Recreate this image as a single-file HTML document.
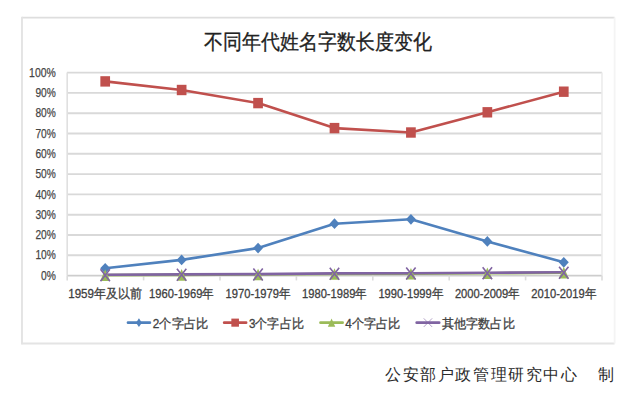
<!DOCTYPE html>
<html><head><meta charset="utf-8"><style>
html,body{margin:0;padding:0;background:#fff;width:640px;height:401px;overflow:hidden}
svg{display:block}
text{font-family:"Liberation Sans",sans-serif}
.yl{font-size:13px;fill:#454545;stroke:#454545;stroke-width:0.25px}
.xl{font-size:12.5px;fill:#404040;stroke:#404040;stroke-width:0.3px}
.lg{font-size:12.5px;fill:#404040;stroke:#404040;stroke-width:0.3px}
.tt{font-size:20.5px;fill:#222;stroke:#222;stroke-width:0.3px}
.cr{font-size:16px;fill:#2a2a2a;letter-spacing:1.6px}
</style></head><body>
<svg width="640" height="401" viewBox="0 0 640 401">
<line x1="22" y1="17.6" x2="614.6" y2="17.6" stroke="#dedede" stroke-width="1.8"/>
<line x1="22" y1="16.7" x2="22" y2="344.3" stroke="#e2e2e2" stroke-width="1.8"/>
<line x1="21.1" y1="343.5" x2="614.6" y2="343.5" stroke="#e4e4e4" stroke-width="1.8"/>
<line x1="614.6" y1="17.6" x2="614.6" y2="343.5" stroke="#f4f4f4" stroke-width="1.8"/>
<line x1="67" y1="72.60" x2="602" y2="72.60" stroke="#d9d9d9" stroke-width="1.9"/>
<line x1="67" y1="92.90" x2="602" y2="92.90" stroke="#d9d9d9" stroke-width="1.9"/>
<line x1="67" y1="113.20" x2="602" y2="113.20" stroke="#d9d9d9" stroke-width="1.9"/>
<line x1="67" y1="133.50" x2="602" y2="133.50" stroke="#d9d9d9" stroke-width="1.9"/>
<line x1="67" y1="153.80" x2="602" y2="153.80" stroke="#d9d9d9" stroke-width="1.9"/>
<line x1="67" y1="174.10" x2="602" y2="174.10" stroke="#d9d9d9" stroke-width="1.9"/>
<line x1="67" y1="194.40" x2="602" y2="194.40" stroke="#d9d9d9" stroke-width="1.9"/>
<line x1="67" y1="214.70" x2="602" y2="214.70" stroke="#d9d9d9" stroke-width="1.9"/>
<line x1="67" y1="235.00" x2="602" y2="235.00" stroke="#d9d9d9" stroke-width="1.9"/>
<line x1="67" y1="255.30" x2="602" y2="255.30" stroke="#d9d9d9" stroke-width="1.9"/>
<line x1="67" y1="275.60" x2="602" y2="275.60" stroke="#cdcdcd" stroke-width="1.9"/>
<line x1="67.2" y1="72.6" x2="67.2" y2="275.6" stroke="#e0e0e0" stroke-width="1.6"/>
<line x1="602" y1="72.6" x2="602" y2="275.6" stroke="#ececec" stroke-width="1.6"/>
<line x1="67.20" y1="275.6" x2="67.20" y2="280.40000000000003" stroke="#dcdcdc" stroke-width="1.6"/>
<line x1="143.60" y1="275.6" x2="143.60" y2="280.40000000000003" stroke="#dcdcdc" stroke-width="1.6"/>
<line x1="220.00" y1="275.6" x2="220.00" y2="280.40000000000003" stroke="#dcdcdc" stroke-width="1.6"/>
<line x1="296.40" y1="275.6" x2="296.40" y2="280.40000000000003" stroke="#dcdcdc" stroke-width="1.6"/>
<line x1="372.80" y1="275.6" x2="372.80" y2="280.40000000000003" stroke="#dcdcdc" stroke-width="1.6"/>
<line x1="449.20" y1="275.6" x2="449.20" y2="280.40000000000003" stroke="#dcdcdc" stroke-width="1.6"/>
<line x1="525.60" y1="275.6" x2="525.60" y2="280.40000000000003" stroke="#dcdcdc" stroke-width="1.6"/>
<line x1="602.00" y1="275.6" x2="602.00" y2="280.40000000000003" stroke="#dcdcdc" stroke-width="1.6"/>
<text x="55.8" y="76.75" text-anchor="end" textLength="26.7" lengthAdjust="spacingAndGlyphs" class="yl">100%</text>
<text x="55.8" y="97.05" text-anchor="end" textLength="20.4" lengthAdjust="spacingAndGlyphs" class="yl">90%</text>
<text x="55.8" y="117.35" text-anchor="end" textLength="20.4" lengthAdjust="spacingAndGlyphs" class="yl">80%</text>
<text x="55.8" y="137.65" text-anchor="end" textLength="20.4" lengthAdjust="spacingAndGlyphs" class="yl">70%</text>
<text x="55.8" y="157.95" text-anchor="end" textLength="20.4" lengthAdjust="spacingAndGlyphs" class="yl">60%</text>
<text x="55.8" y="178.25" text-anchor="end" textLength="20.4" lengthAdjust="spacingAndGlyphs" class="yl">50%</text>
<text x="55.8" y="198.55" text-anchor="end" textLength="20.4" lengthAdjust="spacingAndGlyphs" class="yl">40%</text>
<text x="55.8" y="218.85" text-anchor="end" textLength="20.4" lengthAdjust="spacingAndGlyphs" class="yl">30%</text>
<text x="55.8" y="239.15" text-anchor="end" textLength="20.4" lengthAdjust="spacingAndGlyphs" class="yl">20%</text>
<text x="55.8" y="259.45" text-anchor="end" textLength="20.4" lengthAdjust="spacingAndGlyphs" class="yl">10%</text>
<text x="55.8" y="279.75" text-anchor="end" textLength="14.8" lengthAdjust="spacingAndGlyphs" class="yl">0%</text>
<text x="68.2" y="298.3" textLength="74.0" lengthAdjust="spacingAndGlyphs" class="xl">1959年及以前</text>
<text x="149.1" y="298.3" textLength="65.0" lengthAdjust="spacingAndGlyphs" class="xl">1960-1969年</text>
<text x="225.6" y="298.3" textLength="65.0" lengthAdjust="spacingAndGlyphs" class="xl">1970-1979年</text>
<text x="302.0" y="298.3" textLength="65.0" lengthAdjust="spacingAndGlyphs" class="xl">1980-1989年</text>
<text x="378.4" y="298.3" textLength="65.0" lengthAdjust="spacingAndGlyphs" class="xl">1990-1999年</text>
<text x="454.9" y="298.3" textLength="65.0" lengthAdjust="spacingAndGlyphs" class="xl">2000-2009年</text>
<text x="531.3" y="298.3" textLength="65.0" lengthAdjust="spacingAndGlyphs" class="xl">2010-2019年</text>
<polyline points="105.2,268.3 181.6,259.9 258.1,248.1 334.5,223.7 410.9,219.3 487.4,241.4 563.8,262.3" fill="none" stroke="#4f81bd" stroke-width="2.6" stroke-linejoin="round" stroke-linecap="round"/>
<polyline points="105.2,81.4 181.6,90.0 258.1,103.1 334.5,128.1 410.9,132.5 487.4,112.3 563.8,91.7" fill="none" stroke="#c0504d" stroke-width="2.6" stroke-linejoin="round" stroke-linecap="round"/>
<polyline points="105.2,275.1 181.6,274.9 258.1,274.5 334.5,274.0 410.9,273.8 487.4,273.3 563.8,272.6" fill="none" stroke="#9bbb59" stroke-width="2.6" stroke-linejoin="round" stroke-linecap="round"/>
<polyline points="105.2,274.8 181.6,274.4 258.1,274.1 334.5,273.4 410.9,273.2 487.4,272.8 563.8,272.3" fill="none" stroke="#8064a2" stroke-width="2.6" stroke-linejoin="round" stroke-linecap="round"/>
<path d="M105.20 262.90L110.20 268.30L105.20 273.70L100.20 268.30Z" fill="#4f81bd"/>
<path d="M181.63 254.50L186.63 259.90L181.63 265.30L176.63 259.90Z" fill="#4f81bd"/>
<path d="M258.06 242.70L263.06 248.10L258.06 253.50L253.06 248.10Z" fill="#4f81bd"/>
<path d="M334.49 218.30L339.49 223.70L334.49 229.10L329.49 223.70Z" fill="#4f81bd"/>
<path d="M410.92 213.90L415.92 219.30L410.92 224.70L405.92 219.30Z" fill="#4f81bd"/>
<path d="M487.35 236.00L492.35 241.40L487.35 246.80L482.35 241.40Z" fill="#4f81bd"/>
<path d="M563.78 256.90L568.78 262.30L563.78 267.70L558.78 262.30Z" fill="#4f81bd"/>
<rect x="100.35" y="76.20" width="9.70" height="10.40" fill="#c0504d"/>
<rect x="176.78" y="84.80" width="9.70" height="10.40" fill="#c0504d"/>
<rect x="253.21" y="97.90" width="9.70" height="10.40" fill="#c0504d"/>
<rect x="329.64" y="122.90" width="9.70" height="10.40" fill="#c0504d"/>
<rect x="406.07" y="127.30" width="9.70" height="10.40" fill="#c0504d"/>
<rect x="482.50" y="107.10" width="9.70" height="10.40" fill="#c0504d"/>
<rect x="558.93" y="86.50" width="9.70" height="10.40" fill="#c0504d"/>
<path d="M105.20 269.30L110.20 280.90L100.20 280.90Z" fill="#9bbb59"/>
<path d="M181.63 269.10L186.63 280.70L176.63 280.70Z" fill="#9bbb59"/>
<path d="M258.06 268.70L263.06 280.30L253.06 280.30Z" fill="#9bbb59"/>
<path d="M334.49 268.20L339.49 279.80L329.49 279.80Z" fill="#9bbb59"/>
<path d="M410.92 268.00L415.92 279.60L405.92 279.60Z" fill="#9bbb59"/>
<path d="M487.35 267.50L492.35 279.10L482.35 279.10Z" fill="#9bbb59"/>
<path d="M563.78 266.80L568.78 278.40L558.78 278.40Z" fill="#9bbb59"/>
<path d="M100.50 269.15L109.90 281.15M109.90 269.15L100.50 281.15" stroke="#8064a2" stroke-width="1.6" fill="none" opacity="1"/>
<path d="M176.93 268.75L186.33 280.75M186.33 268.75L176.93 280.75" stroke="#8064a2" stroke-width="1.6" fill="none" opacity="1"/>
<path d="M253.36 268.41L262.76 280.41M262.76 268.41L253.36 280.41" stroke="#8064a2" stroke-width="1.6" fill="none" opacity="1"/>
<path d="M329.79 267.75L339.19 279.75M339.19 267.75L329.79 279.75" stroke="#8064a2" stroke-width="1.6" fill="none" opacity="1"/>
<path d="M406.22 267.60L415.62 279.60M415.62 267.60L406.22 279.60" stroke="#8064a2" stroke-width="1.6" fill="none" opacity="1"/>
<path d="M482.65 267.15L492.05 279.15M492.05 267.15L482.65 279.15" stroke="#8064a2" stroke-width="1.6" fill="none" opacity="1"/>
<path d="M559.08 266.65L568.48 278.65M568.48 266.65L559.08 278.65" stroke="#8064a2" stroke-width="1.6" fill="none" opacity="1"/>
<line x1="128.0" y1="322.65" x2="149.9" y2="322.65" stroke="#4f81bd" stroke-width="2.7" stroke-linecap="round"/>
<path d="M138.95 318.35L141.85 322.65L138.95 326.95L136.05 322.65Z" fill="#4f81bd"/>
<text x="152.8" y="327.5" textLength="55.5" lengthAdjust="spacingAndGlyphs" class="lg">2个字占比</text>
<line x1="224.2" y1="322.65" x2="246.1" y2="322.65" stroke="#c0504d" stroke-width="2.7" stroke-linecap="round"/>
<rect x="231.35" y="318.60" width="7.60" height="8.10" fill="#c0504d"/>
<text x="248.9" y="327.5" textLength="54.8" lengthAdjust="spacingAndGlyphs" class="lg">3个字占比</text>
<line x1="320.5" y1="322.65" x2="342.6" y2="322.65" stroke="#9bbb59" stroke-width="2.7" stroke-linecap="round"/>
<path d="M331.55 318.55L335.25 326.75L327.85 326.75Z" fill="#9bbb59"/>
<text x="345.2" y="327.5" textLength="55.3" lengthAdjust="spacingAndGlyphs" class="lg">4个字占比</text>
<line x1="416.7" y1="322.65" x2="439.2" y2="322.65" stroke="#8064a2" stroke-width="2.7" stroke-linecap="round"/>
<path d="M423.75 318.35L432.15 326.95M432.15 318.35L423.75 326.95" stroke="#8064a2" stroke-width="1.0" fill="none" opacity="0.6"/>
<text x="441.8" y="327.5" textLength="72.9" lengthAdjust="spacingAndGlyphs" class="lg">其他字数占比</text>
<text x="204" y="49.2" textLength="228" lengthAdjust="spacingAndGlyphs" class="tt">不同年代姓名字数长度变化</text>
<text x="385" y="380" class="cr">公安部户政管理研究中心</text>
<text x="597.5" y="380" class="cr">制</text>
</svg></body></html>
